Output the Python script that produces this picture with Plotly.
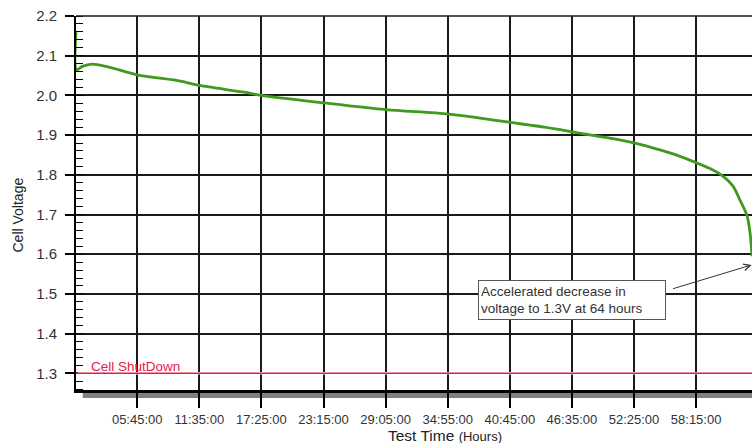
import plotly.graph_objects as go

# ---- data ----
time_h = [0.0, 0.05, 0.6, 1.5, 3.0, 5.75, 9.8, 11.6, 15.8, 17.4, 23.3, 29.1, 35.0,
          39.8, 44.0, 47.3, 50.0, 52.5, 54.85, 56.5, 58.29, 59.6, 60.79, 61.7,
          62.36, 63.04, 63.36, 63.5]
voltage = [2.16, 2.065, 2.073, 2.079, 2.072, 2.052, 2.036, 2.025, 2.008, 2.000, 1.981,
           1.964, 1.953, 1.936, 1.920, 1.905, 1.893, 1.880, 1.863, 1.849, 1.830, 1.815,
           1.796, 1.772, 1.737, 1.697, 1.644, 1.595]

x_tick_labels = ["05:45:00", "11:35:00", "17:25:00", "23:15:00", "29:05:00",
                 "34:55:00", "40:45:00", "46:35:00", "52:25:00", "58:15:00"]
y_tick_values = [1.3, 1.4, 1.5, 1.6, 1.7, 1.8, 1.9, 2.0, 2.1, 2.2]
shutdown_v = 1.3

annot_text = "Accelerated decrease in<br>voltage to 1.3V at 64 hours"
annot_head = (63.46, 1.573)
annot_tail = (55.94, 1.512)
annot_center = (46.58, 1.485)


def hms_to_hours(s):
    h, m, sec = (int(p) for p in s.split(":"))
    return h + m / 60 + sec / 3600


x_tick_vals = [hms_to_hours(s) for s in x_tick_labels]

FONT = "Arial, Liberation Sans, sans-serif"
GRID = "#1a1a1a"
RED = "#e8194c"

fig = go.Figure()

fig.add_trace(go.Scatter(
    x=time_h, y=voltage, mode="lines",
    line=dict(color="#3f9a1f", width=2.8, shape="spline", smoothing=0.8),
    showlegend=False, hoverinfo="skip", cliponaxis=False,
))

fig.update_layout(
    width=753, height=443,
    margin=dict(l=76, r=1, t=16, b=53),
    paper_bgcolor="white", plot_bgcolor="white",
    font=dict(family=FONT, color="#333"),
    showlegend=False,
    xaxis=dict(
        range=[0, 63.5],
        tickmode="array", tickvals=x_tick_vals, ticktext=x_tick_labels,
        ticks="outside", ticklen=15, tickwidth=1.5, tickcolor="black",
        ticklabelstandoff=1,
        tickfont=dict(size=13, color="#333", family=FONT),
        showgrid=True, gridcolor=GRID, gridwidth=1.5,
        showline=True, linecolor="black", linewidth=2.5,
        zeroline=False,
    ),
    yaxis=dict(
        range=[1.258, 2.2],
        tickmode="array", tickvals=y_tick_values,
        ticktext=[f"{v:.1f}" for v in y_tick_values],
        ticks="outside", ticklen=9, tickwidth=1.5, tickcolor="black",
        ticklabelstandoff=5,
        tickfont=dict(size=15, color="#333", family=FONT),
        showgrid=True, gridcolor=GRID, gridwidth=1.5,
        showline=True, linecolor="black", linewidth=2,
        zeroline=False,
        minor=dict(dtick=0.02, tick0=1.2, ticks="inside", ticklen=7,
                   tickwidth=1.3, tickcolor="black", showgrid=False),
    ),
    shapes=[
        # grey shadow bar under the x axis
        dict(type="rect", xref="paper", yref="paper",
             x0=0.01, x1=1.0, y0=-0.0215, y1=-0.003,
             fillcolor="#808080", line=dict(width=0), layer="below"),
        # top border
        dict(type="line", xref="paper", yref="paper", x0=0, x1=1, y0=1, y1=1,
             line=dict(color=GRID, width=1.5)),
        # mask the grid line under the shutdown line
        dict(type="line", xref="paper", yref="y", x0=0.003, x1=1,
             y0=shutdown_v, y1=shutdown_v,
             line=dict(color="white", width=2.5), layer="above"),
        # cell shutdown line
        dict(type="line", xref="paper", yref="y", x0=0, x1=1,
             y0=shutdown_v, y1=shutdown_v,
             line=dict(color=RED, width=1.5), layer="above"),
    ],
    annotations=[
        dict(text="Cell Voltage", xref="paper", yref="paper", x=-0.0865, y=0.468,
             textangle=-90, showarrow=False, xanchor="center", yanchor="middle",
             font=dict(size=14, color="#222", family=FONT)),
        dict(text="Test Time <span style='font-size:13px'>(Hours)</span>",
             xref="paper", yref="paper", x=0.546, y=-0.121,
             showarrow=False, xanchor="center", yanchor="middle",
             font=dict(size=15.5, color="#222", family=FONT)),
        dict(text="Cell ShutDown", xref="x", yref="y", x=1.22, y=shutdown_v + 0.018,
             showarrow=False, xanchor="left", yanchor="middle",
             font=dict(size=13.5, color=RED, family=FONT)),
        dict(text=annot_text, xref="x", yref="y",
             x=annot_center[0], y=annot_center[1],
             showarrow=False, align="left", xanchor="center", yanchor="middle",
             bgcolor="white", bordercolor="#555", borderwidth=1, borderpad=2,
             width=182, height=34,
             font=dict(size=13.5, color="#333", family=FONT)),
        dict(text="", xref="x", yref="y", x=annot_head[0], y=annot_head[1],
             axref="x", ayref="y", ax=annot_tail[0], ay=annot_tail[1],
             showarrow=True, arrowhead=5, arrowsize=1.3, arrowwidth=1,
             arrowcolor="#333", standoff=0, startstandoff=0),
    ],
)

fig.write_html("out.html")
